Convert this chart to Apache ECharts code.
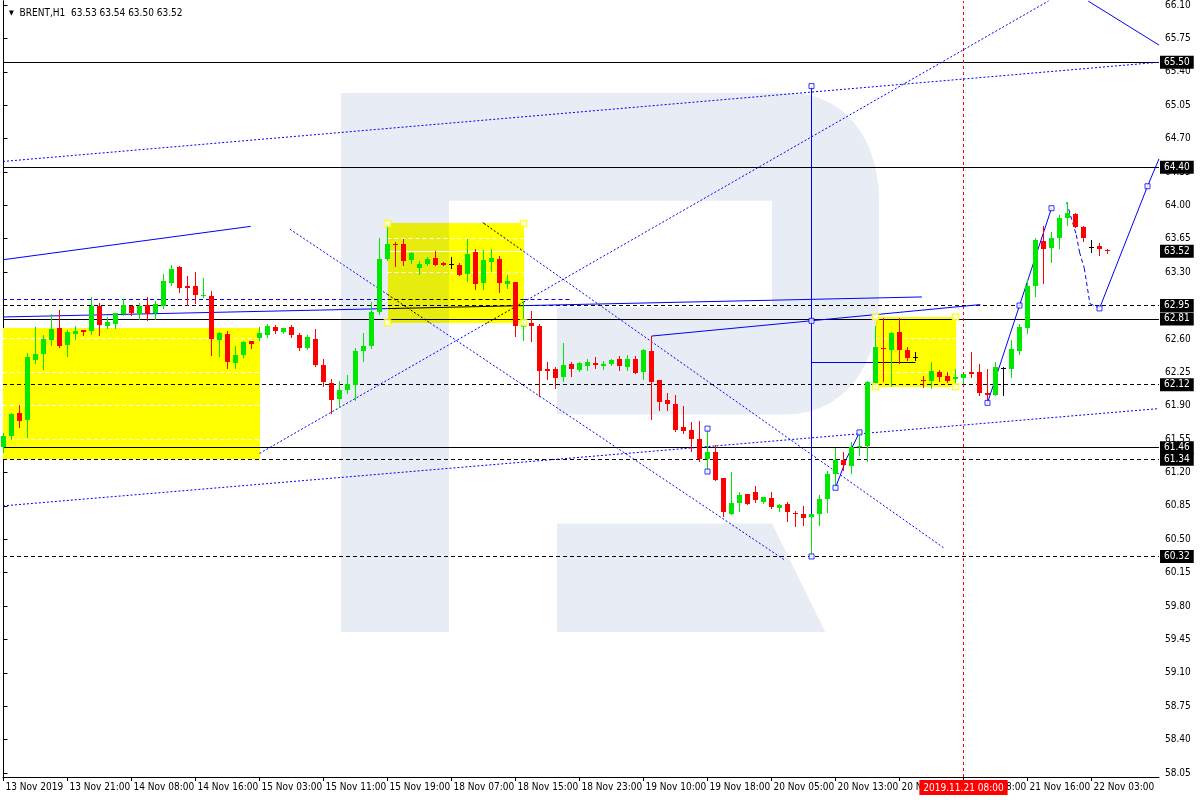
<!DOCTYPE html>
<html><head><meta charset="utf-8">
<script src="https://cdn.jsdelivr.net/npm/echarts@6/dist/echarts.min.js"></script>
<style>html,body{margin:0;padding:0;background:#fff}#c{width:1200px;height:800px}</style>
</head><body><div id="c"></div>
<script>
// ---------------- data ----------------
const titleText = 'BRENT,H1  63.53 63.54 63.50 63.52';
const opens = [61.47,61.58,61.82,61.75,62.38,62.44,62.59,62.71,62.54,62.65,
62.69,62.68,62.94,62.74,62.76,62.86,62.95,62.86,62.96,62.87,
62.95,63.19,63.35,63.15,63.15,63.05,63.05,62.59,62.65,62.35,
62.43,62.58,62.61,62.64,62.73,62.67,62.72,62.64,62.50,62.60,
62.33,62.14,61.97,62.06,62.12,62.47,62.53,62.88,63.44,63.60,
63.60,63.43,63.34,63.39,63.45,63.40,63.39,63.38,63.28,63.51,
63.19,63.41,63.44,63.18,63.20,62.73,62.77,62.74,62.28,62.28,
62.20,62.34,62.27,62.32,62.35,62.32,62.34,62.39,62.31,62.39,
62.25,62.47,62.17,61.96,61.92,61.68,61.65,61.55,61.34,61.41,
61.14,60.77,60.88,60.97,61.00,60.89,60.93,60.83,60.87,60.78,
60.76,60.73,60.77,60.92,61.18,61.33,61.27,61.47,61.48,62.14,
62.51,62.48,62.67,62.48,62.41,62.17,62.16,62.25,62.21,62.18,
62.19,62.25,62.25,62.03,62.01,62.30,62.28,62.47,62.71,63.15,
63.63,63.55,63.66,63.87,63.91,63.77,63.56,63.57,63.53];
const highs = [61.61,61.82,61.91,62.45,62.72,62.64,62.86,62.90,62.69,62.74,
62.69,63.04,62.98,62.83,62.87,63.02,62.95,62.98,63.04,63.00,
63.28,63.37,63.36,63.26,63.30,63.24,63.10,62.67,62.68,62.53,
62.58,62.58,62.72,62.76,62.75,62.71,62.75,62.66,62.64,62.70,
62.39,62.18,62.16,62.22,62.50,62.66,62.99,63.66,63.79,63.62,
63.65,63.51,63.42,63.46,63.52,63.41,63.46,63.40,63.65,63.54,
63.53,63.54,63.47,63.27,63.20,63.00,62.89,62.76,62.36,62.31,
62.56,62.36,62.36,62.39,62.41,62.37,62.39,62.42,62.43,62.42,
62.49,62.63,62.17,62.03,62.01,61.90,61.73,61.74,61.66,61.49,
61.14,61.20,61.00,60.97,61.06,60.94,61.00,60.87,60.89,60.80,
60.85,60.77,60.96,61.22,61.46,61.42,61.52,61.63,62.16,62.74,
62.82,62.67,62.82,62.52,62.46,62.21,62.36,62.27,62.25,62.29,
62.23,62.46,62.34,62.29,62.36,62.31,62.59,62.76,63.22,63.66,
63.78,63.72,63.90,64.03,63.92,63.78,63.64,63.61,63.54];
const lows = [61.41,61.55,61.68,61.57,62.35,62.29,62.54,62.52,62.42,62.60,
62.64,62.65,62.64,62.71,62.71,62.85,62.85,62.81,62.80,62.81,
62.92,63.17,63.09,62.96,62.98,63.04,62.43,62.42,62.30,62.30,
62.41,62.51,62.59,62.62,62.66,62.66,62.62,62.48,62.49,62.32,
62.11,61.82,61.89,62.03,61.96,62.37,62.51,62.86,63.43,63.36,
63.37,63.40,63.28,63.38,63.38,63.37,63.34,63.27,63.21,63.12,
63.12,63.31,63.09,63.13,62.63,62.59,62.58,62.00,62.18,62.09,
62.16,62.21,62.26,62.27,62.30,62.29,62.33,62.27,62.27,62.24,
62.18,61.76,61.86,61.86,61.64,61.61,61.43,61.32,61.21,61.12,
60.74,60.76,60.80,60.87,60.89,60.88,60.83,60.80,60.69,60.64,
60.65,60.32,60.65,60.79,61.04,61.23,61.19,61.38,61.32,62.09,
62.16,62.11,62.35,62.38,62.38,62.10,62.09,62.16,62.15,62.12,
62.14,62.20,62.01,61.93,62.01,62.01,62.20,62.44,62.66,63.05,
63.19,63.41,63.55,63.79,63.77,63.63,63.51,63.48,63.50];
const closes = [61.58,61.81,61.74,62.41,62.44,62.60,62.70,62.53,62.67,62.68,
62.67,62.95,62.75,62.78,62.87,62.96,62.87,62.94,62.86,62.97,
63.21,63.33,63.13,63.13,63.06,63.06,62.60,62.66,62.36,62.43,
62.57,62.55,62.66,62.74,62.68,62.71,62.64,62.51,62.62,62.33,
62.15,61.96,62.06,62.13,62.47,62.53,62.88,63.44,63.59,63.58,
63.42,63.50,63.39,63.44,63.38,63.37,63.39,63.27,63.49,63.18,
63.43,63.45,63.19,63.21,62.74,62.76,62.74,62.26,62.26,62.19,
62.33,62.28,62.35,62.36,62.33,62.34,62.38,62.32,62.39,62.24,
62.48,62.15,61.94,61.92,61.65,61.63,61.55,61.34,61.42,61.12,
60.79,60.88,60.96,60.87,60.91,60.94,60.84,60.86,60.79,60.77,
60.72,60.76,60.92,61.18,61.33,61.28,61.47,61.48,62.15,62.52,
62.49,62.66,62.48,62.40,62.41,62.16,62.26,62.20,62.16,62.20,
62.23,62.23,62.03,62.01,62.31,62.30,62.49,62.73,63.15,63.64,
63.54,63.66,63.87,63.92,63.77,63.66,63.56,63.54,63.52];

const xTickBars = [0,8,16,24,32,40,48,56,64,72,80,88,96,104,112,120,128,136];
const xTickLabels = ['13 Nov 2019','13 Nov 21:00','14 Nov 08:00','14 Nov 16:00','15 Nov 03:00',
  '15 Nov 11:00','15 Nov 19:00','18 Nov 07:00','18 Nov 15:00','18 Nov 23:00','19 Nov 10:00',
  '19 Nov 18:00','20 Nov 05:00','20 Nov 13:00','20 Nov 21:00','21 Nov 08:00','21 Nov 16:00','22 Nov 03:00'];
const yTicks = [58.05,58.40,58.75,59.10,59.45,59.80,60.15,60.50,60.85,61.20,61.55,61.90,
  62.25,62.60,62.95,63.30,63.65,64.00,64.35,64.70,65.05,65.40,65.75,66.10];

const solidLevels = [65.50, 64.40, 62.81, 61.46];
const dashedLevels = [62.95, 62.12, 61.34, 60.32];
const bidPrice = 63.52;
const cursorBar = 120;
const cursorLabel = '2019.11.21 08:00';

// rectangles: [barFrom, barTo, priceLow, priceHigh]
const boxes = [[-1, 32, 61.34, 62.71], [48, 65, 62.77, 63.81], [109, 119, 62.10, 62.83]];
const boxHandles = [[48,63.81],[65,63.81],[48,62.77],[65,62.77],[109,62.83],[119,62.83],[109,62.10],[119,62.10]];

// trend lines [bar1, price1, bar2, price2]
const solidLines = [
  [-0.06, 63.43, 30.9, 63.78],
  [-0.06, 62.83, 114.8, 63.04],
  [81, 62.63, 122.1, 62.96],
  [101, 62.35, 114, 62.35],
  [101, 65.25, 101, 60.32],
  [135.6, 66.14, 144.44, 65.68],
  [104, 61.04, 105.4, 61.35], [105.4, 61.35, 107, 61.62],
  [123, 61.93, 127, 62.95], [127, 62.95, 131, 63.97],
  [137, 62.92, 143, 64.20], [143, 64.20, 144.6, 64.52]
];
const dottedLines = [
  [-0.06, 60.85, 144.44, 61.87],
  [-0.06, 64.46, 144.44, 65.50],
  [32, 61.40, 131, 66.16],
  [35.8, 63.75, 97.7, 60.28],
  [59.9, 63.82, 117.7, 60.40]
];
const dashedLines = [
  [-0.06, 63.01, 70.8, 63.01],
  [132.9, 64.03, 134.1, 63.69], [134.1, 63.69, 134.5, 63.51], [134.5, 63.51, 135.1, 63.34],
  [135.1, 63.34, 135.8, 62.97], [135.8, 62.97, 137.0, 62.92]
];
const pointMarks = [[88,61.66],[88,61.21],[101,65.25],[101,62.79],[101,60.32],[104,61.04],[107,61.62],
  [123,61.93],[127,62.95],[131,63.97],[137,62.92],[143,64.20]];

// ---------------- layout / style ----------------
const FONT = "'DejaVu Sans Condensed','DejaVu Sans',sans-serif";
const GREEN = '#00e800', RED = '#ff0000', BLUE = '#0000ff';
const GRID_L = 3, GRID_R = 41, GRID_T = 0, GRID_B = 23;
const X_MIN = -0.0625, X_MAX = X_MIN + (1200 - GRID_L - GRID_R) / 8;
const Y_MAX = 66.142, Y_MIN = Y_MAX - (800 - GRID_T - GRID_B) / 95.53;
const WM = 'rgba(20,61,143,0.098)';

// ---------------- helpers ----------------
function clip(x1,y1,x2,y2,xmin,xmax,ymin,ymax){
  let t0 = 0, t1 = 1; const dx = x2-x1, dy = y2-y1;
  const p = [-dx, dx, -dy, dy], q = [x1-xmin, xmax-x1, y1-ymin, ymax-y1];
  for (let k=0;k<4;k++){
    if (p[k] === 0){ if (q[k] < 0) return null; }
    else { const t = q[k]/p[k];
      if (p[k] < 0){ if (t > t1) return null; if (t > t0) t0 = t; }
      else { if (t < t0) return null; if (t < t1) t1 = t; } }
  }
  return [t0, t1];
}
const segs = [];
function addLine(l, dash){
  const [b1,p1,b2,p2] = l;
  const c = clip(b1,p1,b2,p2,X_MIN,X_MAX,Y_MIN,Y_MAX); if (!c) return;
  const P = t => [b1+(b2-b1)*t, p1+(p2-p1)*t];
  const push = (ta, tb, col) => { if (tb - ta < 1e-6) return; const a = P(ta), b = P(tb); segs.push({v:[a[0],a[1],b[0],b[1]], color:col, dash}); };
  let ins = [];
  boxes.forEach(bx => { const r = clip(b1,p1,b2,p2, Math.max(bx[0],X_MIN), bx[1], bx[2], bx[3]);
    if (r) { const a = Math.max(r[0], c[0]), b = Math.min(r[1], c[1]); if (b > a) ins.push([a,b]); } });
  ins.sort((a,b)=>a[0]-b[0]);
  let t = c[0];
  ins.forEach(r => { if (r[0] > t) push(t, r[0], BLUE); push(Math.max(t,r[0]), r[1], '#000'); t = Math.max(t, r[1]); });
  if (c[1] > t) push(t, c[1], BLUE);
}
solidLines.forEach(l => addLine(l, null));
dottedLines.forEach(l => addLine(l, [2,2]));
dashedLines.forEach(l => addLine(l, [4,3]));

// white dashes inside yellow boxes
const wsegs = [];
const levelSet = solidLevels.concat(dashedLevels);
boxes.forEach(bx => {
  const x1 = Math.max(bx[0], X_MIN), x2 = bx[1];
  yTicks.forEach(t => { if (t > bx[2] && t < bx[3] && levelSet.indexOf(t) < 0) wsegs.push({v:[x1,t,x2,t], dash:[4,3]}); });
  if (bidPrice > bx[2] && bidPrice < bx[3]) wsegs.push({v:[x1,bidPrice,x2,bidPrice], dash:null});
});

function crisp(v){ return Math.round(v - 0.5) + 0.5; }
function segRender(list, defColor){
  return function(params, api){
    const s = list[params.dataIndex];
    let a = api.coord([api.value(0), api.value(1)]), b = api.coord([api.value(2), api.value(3)]);
    if (Math.abs(a[1]-b[1]) < 0.01){ a[1] = b[1] = crisp(a[1]); }
    if (Math.abs(a[0]-b[0]) < 0.01){ a[0] = b[0] = crisp(a[0]); }
    return {type:'line', silent:true, shape:{x1:a[0],y1:a[1],x2:b[0],y2:b[1]},
      style:{stroke: s.color || defColor, lineWidth:1, lineDash: s.dash || null}};
  };
}

// watermark (decorative logo) outline
function bez(p0,p1,p2,p3,n){ const out=[]; for(let k=1;k<=n;k++){ const t=k/n, u=1-t;
  out.push([u*u*u*p0[0]+3*u*u*t*p1[0]+3*u*t*t*p2[0]+t*t*t*p3[0], u*u*u*p0[1]+3*u*u*t*p1[1]+3*u*t*t*p2[1]+t*t*t*p3[1]]); } return out; }
const bowl = [[449,93],[790,93]].concat(bez([790,93],[845,93],[879,140],[879,200],14))
  .concat([[879,300]]).concat(bez([879,300],[879,365],[845,414.5],[785,414.5],14))
  .concat([[557,414.5],[557,307.3],[772,307.3],[772,200.7],[449,200.7]]);

const candleData = opens.map((o,i)=>[i, o, closes[i], lows[i], highs[i]]);

const levelMarks = [];
solidLevels.forEach(v => levelMarks.push({yAxis:v, lineStyle:{color:'#000', type:'solid', width:1}}));
dashedLevels.forEach(v => levelMarks.push({yAxis:v, lineStyle:{color:'#000', type:[4,3], width:1}}));
levelMarks.push({yAxis:bidPrice, lineStyle:{color:'rgba(0,0,0,0)', width:1}});
levelMarks.forEach(m => { m.label = {show:true, position:'end', distance:1, formatter: m.yAxis.toFixed(2),
  color:'#fff', backgroundColor:'#000', padding:[2,4,1,4], fontFamily:FONT, fontSize:10}; });

const chart = echarts.init(document.getElementById('c'), null, {renderer:'canvas'});
chart.setOption({
  animation:false,
  backgroundColor:'#fff',
  title:{text:'{a|▼}  ' + titleText, left:4, top:3,
    textStyle:{fontSize:10, fontWeight:'normal', fontFamily:FONT, color:'#000', rich:{a:{fontSize:7, color:'#000', fontFamily:FONT}}}},
  grid:{left:GRID_L, right:GRID_R, top:GRID_T, bottom:GRID_B, containLabel:false},
  xAxis:[{type:'value', min:X_MIN, max:X_MAX, position:'bottom',
    axisLine:{show:true, onZero:false, lineStyle:{color:'#000', width:1}},
    axisTick:{show:true, customValues:xTickBars, length:4, lineStyle:{color:'#000'}},
    axisLabel:{show:true, customValues:xTickBars, align:'left', margin:5, padding:[0,0,0,2],
      color:'#000', fontFamily:FONT, fontSize:10,
      formatter: v => { const k = xTickBars.indexOf(Math.round(v)); return k >= 0 ? xTickLabels[k] : ''; }},
    splitLine:{show:false}}],
  yAxis:[{type:'value', position:'right', min:Y_MIN, max:Y_MAX,
    axisLine:{show:true, lineStyle:{color:'#000', width:1}},
    axisTick:{show:true, customValues:yTicks, length:4, lineStyle:{color:'#000'}},
    axisLabel:{show:true, customValues:yTicks, margin:6, color:'#000', fontFamily:FONT, fontSize:10,
      formatter: v => v.toFixed(2)},
    splitLine:{show:false}},
    {type:'value', position:'left', min:Y_MIN, max:Y_MAX,
    axisLine:{show:true, lineStyle:{color:'#000', width:1}}, axisTick:{show:false}, axisLabel:{show:false}, splitLine:{show:false}}],
  graphic:[
    {type:'rect', z:1.5, silent:true, shape:{x:341, y:93, width:108, height:539}, style:{fill:WM}},
    {type:'polygon', z:1.5, silent:true, shape:{points:bowl}, style:{fill:WM}},
    {type:'polygon', z:1.5, silent:true, shape:{points:[[557,523.6],[772,523.6],[825.3,632],[557,632]]}, style:{fill:WM}}
  ],
  series:[
    {type:'custom', name:'boxes', z:1, silent:true, data: boxes.map(b=>[Math.max(b[0],X_MIN), b[2], b[1], b[3]]),
      encode:{x:[0,2], y:[1,3]},
      renderItem(params, api){
        const a = api.coord([api.value(0), api.value(3)]), b = api.coord([api.value(2), api.value(1)]);
        const x = Math.round(a[0]), y = Math.round(a[1]);
        return {type:'rect', shape:{x, y, width:Math.round(b[0])-x, height:Math.round(b[1])-y}, style:{fill:'#ffff00'}};
      }},
    {type:'custom', name:'boxgrid', z:1.8, silent:true, data: wsegs.map(s=>s.v), encode:{x:[0,2], y:[1,3]},
      renderItem: segRender(wsegs, '#fff')},
    {type:'custom', name:'objects', z:3, silent:true, data: segs.map(s=>s.v), encode:{x:[0,2], y:[1,3]},
      renderItem: segRender(segs, BLUE)},
    {type:'line', name:'levels', data:[], z:3, silent:true,
      markLine:{silent:true, z:3, symbol:['none','none'], animation:false, data: levelMarks.concat([
        {xAxis:cursorBar, lineStyle:{color:'#ff0000', type:[3,3], width:1},
         label:{show:true, position:'start', distance:3, formatter:cursorLabel, color:'#fff', backgroundColor:'#ff0000',
           padding:[3,4,2,4], fontFamily:FONT, fontSize:10}}])}},
    {type:'custom', name:'candles', z:4, silent:true, data:candleData, encode:{x:0, y:[1,2,3,4]},
      renderItem(params, api){
        const i = api.value(0), o = api.value(1), c = api.value(2), l = api.value(3), h = api.value(4);
        const x = crisp(api.coord([i,o])[0]);
        const yo = api.coord([i,o])[1], yc = api.coord([i,c])[1], yl = api.coord([i,l])[1], yh = api.coord([i,h])[1];
        const col = c > o ? GREEN : (c < o ? RED : '#000');
        const top = Math.round(Math.min(yo,yc)), bot = Math.round(Math.max(yo,yc));
        return {type:'group', children:[
          {type:'line', shape:{x1:x, y1:Math.round(yh), x2:x, y2:Math.round(yl)+1}, style:{stroke:col, lineWidth:1}},
          {type:'rect', shape:{x:x-2.5, y:top, width:5, height:Math.max(1, bot-top)}, style:{fill:col}}
        ]};
      }},
    {type:'scatter', name:'points', z:5, silent:true, data:pointMarks, symbol:'rect', symbolSize:5,
      itemStyle:{color:'#fff', borderColor:BLUE, borderWidth:1}},
    {type:'scatter', name:'handles', z:5, silent:true, data:boxHandles, symbol:'rect', symbolSize:6,
      itemStyle:{color:'#fff', borderColor:'#ffff00', borderWidth:1.5}}
  ]
});
</script>
</body></html>
